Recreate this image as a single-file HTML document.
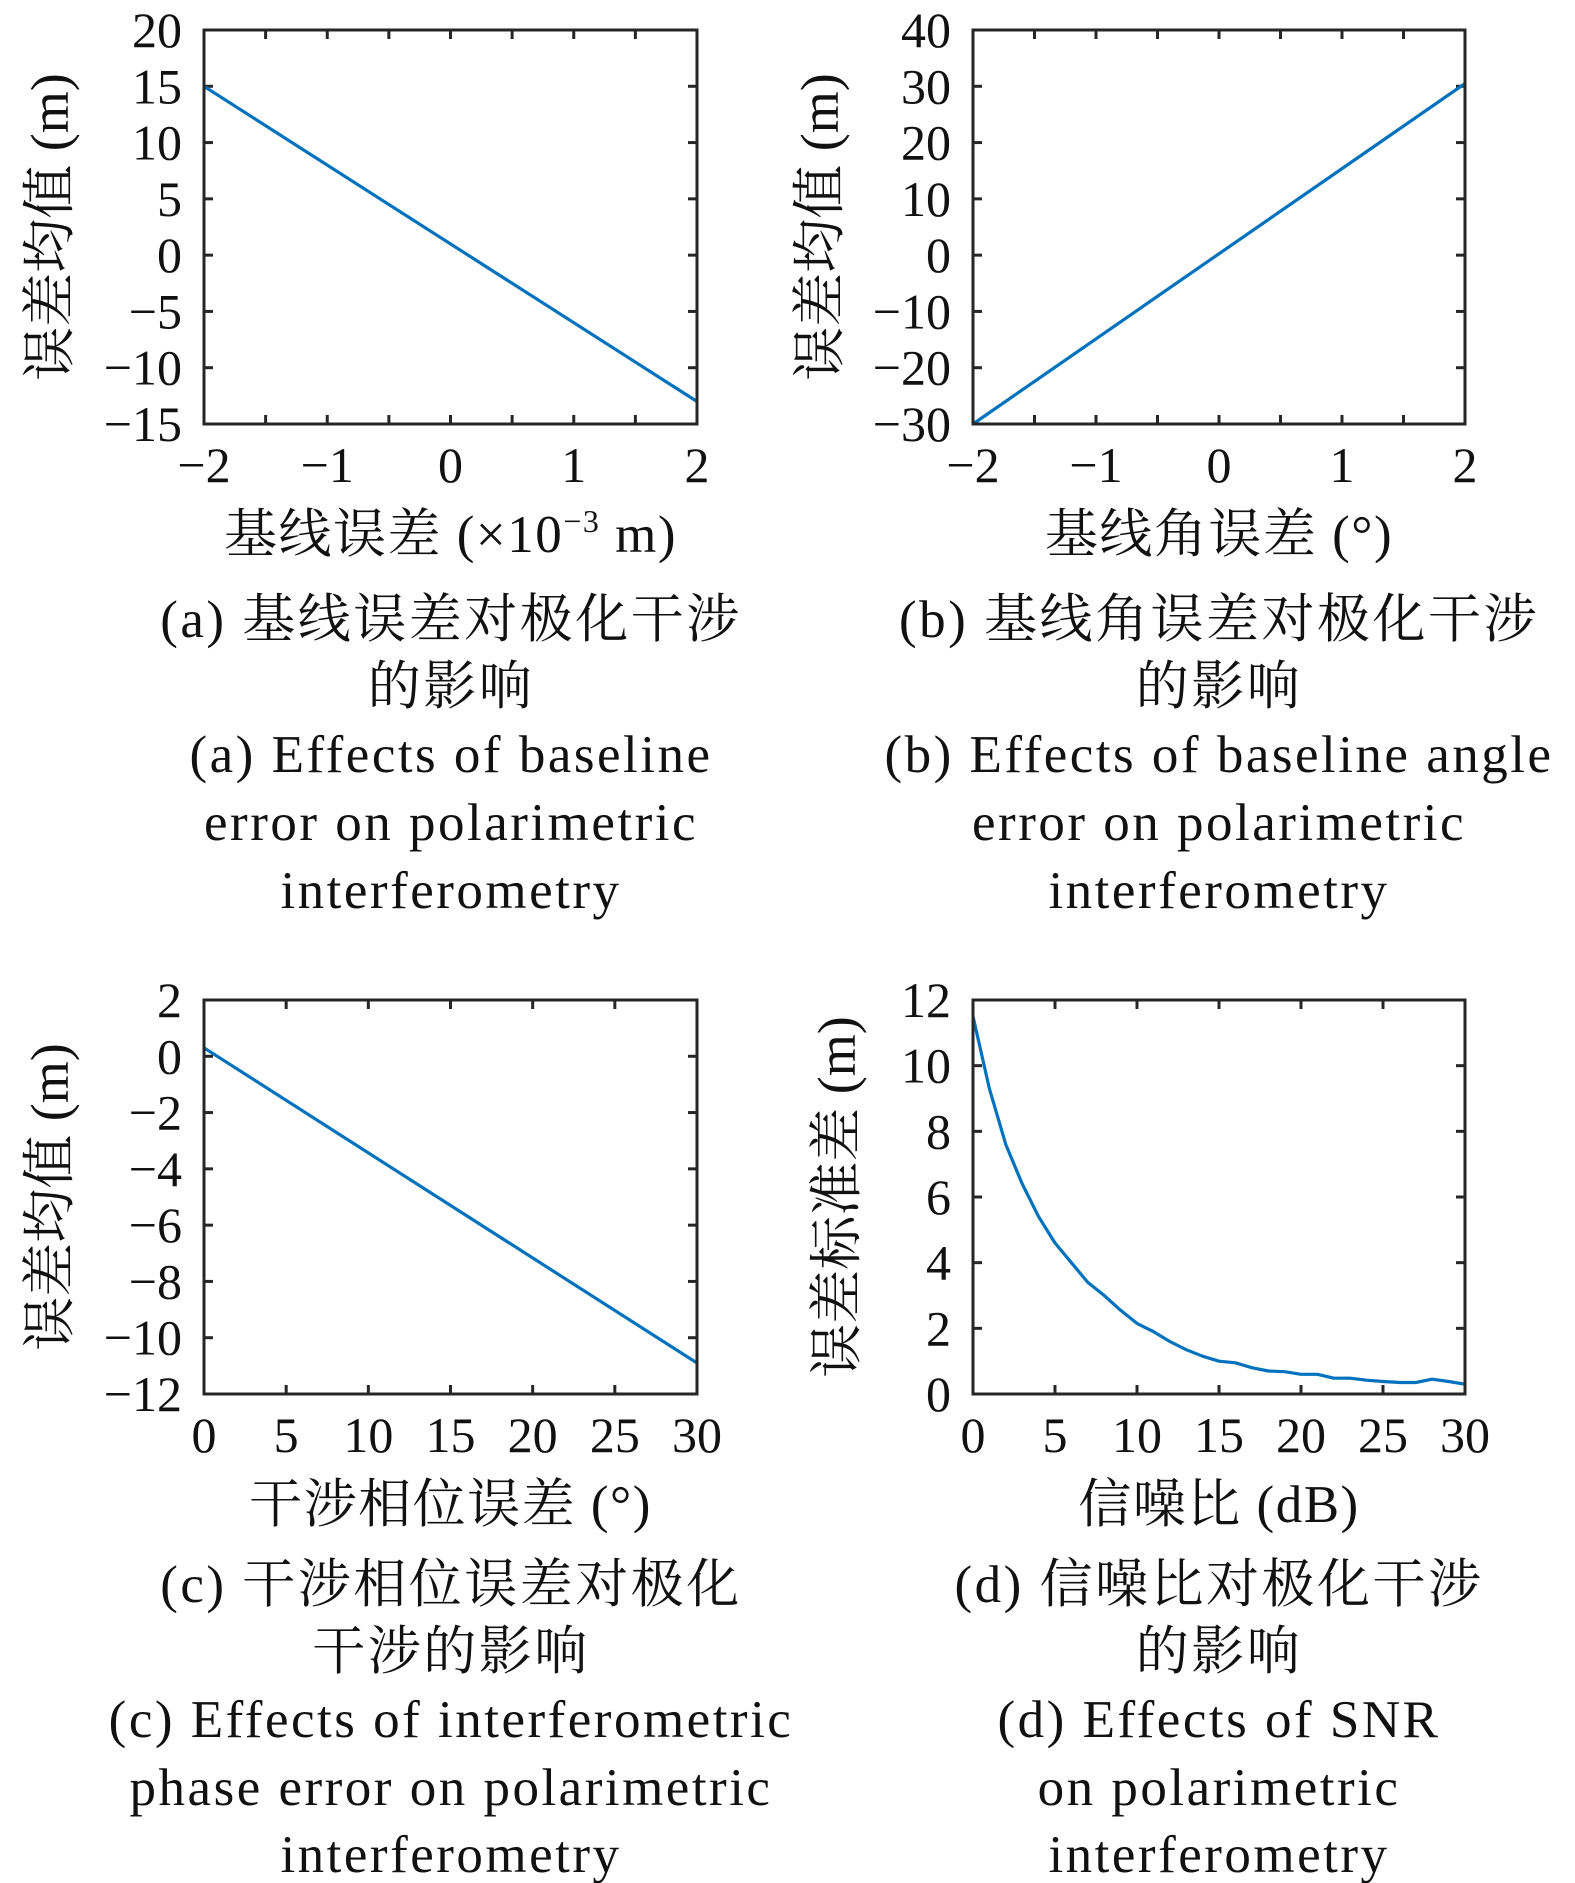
<!DOCTYPE html>
<html><head><meta charset="utf-8">
<style>
html,body{margin:0;padding:0;background:#fff;}
svg{display:block;}
text{font-family:"Liberation Serif","Noto Serif CJK SC",serif;fill:#111;}
</style></head>
<body>
<svg id="fig" width="1575" height="1883" viewBox="0 0 1575 1883" xmlns="http://www.w3.org/2000/svg"></svg>
<script>
const aX = [-2, 2];
const aY = [15, -13];
const bX = [-2, 2];
const bY = [-30, 30.5];
const cX = [0, 30];
const cY = [0.3, -10.9];
const dX = [0,1,2,3,4,5,6,7,8,9,10,11,12,13,14,15,16,17,18,19,20,21,22,23,24,25,26,27,28,29,30];
const dY = [11.5,9.3,7.6,6.4,5.4,4.6,4.0,3.4,3.0,2.55,2.15,1.9,1.6,1.35,1.15,1.0,0.95,0.8,0.7,0.68,0.6,0.6,0.48,0.48,0.42,0.38,0.35,0.35,0.45,0.38,0.3];
const aXTicks = [-2,-1,0,1,2];
const aYTicks = [20,15,10,5,0,-5,-10,-15];
const bYTicks = [40,30,20,10,0,-10,-20,-30];
const cXTicks = [0,5,10,15,20,25,30];
const cYTicks = [2,0,-2,-4,-6,-8,-10,-12];
const dYTicks = [12,10,8,6,4,2,0];

const NS = "http://www.w3.org/2000/svg";
const svg = document.getElementById('fig');
function mk(tag, attrs, parent){const e=document.createElementNS(NS,tag);for(const k in attrs)e.setAttribute(k,attrs[k]);(parent||svg).appendChild(e);return e;}
function lab(s){return s<0?'\u2212'+(-s):String(s);}

function panel(cfg){
  const g = mk('g',{});
  
  
  const L=cfg.box[0],R=cfg.box[1],T=cfg.box[2],B=cfg.box[3];
  const sx=v=>L+(v-cfg.xr[0])/(cfg.xr[1]-cfg.xr[0])*(R-L);
  const sy=v=>B-(v-cfg.yr[0])/(cfg.yr[1]-cfg.yr[0])*(B-T);
  for(let v=cfg.xr[0]; v<=cfg.xr[1]+1e-9; v+=cfg.xStep){
    const x=sx(v);
    const t1=mk('line',{x1:x,x2:x,y1:B,y2:B-9,stroke:'#262626','stroke-width':3},g);
    
    
    mk('line',{x1:x,x2:x,y1:T,y2:T+9,stroke:'#262626','stroke-width':3},g);
  }
  cfg.yTicks.forEach(v=>{
    const y=sy(v);
    const t1=mk('line',{x1:L,x2:L+9,y1:y,y2:y,stroke:'#262626','stroke-width':3},g);
    
    
    mk('line',{x1:R,x2:R-9,y1:y,y2:y,stroke:'#262626','stroke-width':3},g);
    const t=mk('text',{x:L-22,y:y+17,'text-anchor':'end','font-size':50},g);
    t.textContent=lab(v);
    
    
  });
  cfg.xTicks.forEach(v=>{
    const t=mk('text',{x:sx(v),y:B+58,'text-anchor':'middle','font-size':50},g);
    t.textContent=lab(v);
    
    
  });
  const pts=cfg.xs.map((x,i)=>sx(x).toFixed(1)+','+sy(cfg.ys[i]).toFixed(1)).join(' ');
  const pl=mk('polyline',{points:pts,fill:'none',stroke:'#0072BD','stroke-width':3.2,'stroke-linejoin':'round'},g);
  
  
  const box=mk('rect',{x:L,y:T,width:R-L,height:B-T,fill:'none',stroke:'#262626','stroke-width':3},g);
  
  
  const xt=mk('text',{x:(L+R)/2,y:B+128,'text-anchor':'middle','font-size':53,'letter-spacing':1.5},g);
  xt.innerHTML=cfg.xlabel;
  
  
  const yt=mk('text',{x:0,y:0,'text-anchor':'middle','font-size':54,transform:`translate(${cfg.ylx},${(T+B)/2}) rotate(-90)`},g);
  yt.textContent=cfg.ylabel;
  
  
  cfg.caption.forEach((s,i)=>{
    const c=mk('text',{x:cfg.capx,y:cfg.capy[i],'text-anchor':'middle','font-size':53,'letter-spacing':2.5},g);
    c.textContent=s;
    
    
  });
}
const capTop=[637,704,772,840,908];
const capBot=[1602,1669,1737,1805,1872];
panel({name:'panel-a',box:[204,697,30,424],xr:[-2,2],yr:[-15,20],xStep:0.5,xTicks:aXTicks,yTicks:aYTicks,xs:aX,ys:aY,
  xlabel:'基线误差 (×10<tspan dy="-20" font-size="32">−3</tspan><tspan dy="20"> m)</tspan>',ylabel:'误差均值 (m)',ylx:68,
  caption:['(a) 基线误差对极化干涉','的影响','(a) Effects of baseline','error on polarimetric','interferometry'],capx:451,capy:capTop});
panel({name:'panel-b',box:[973,1465,30,424],xr:[-2,2],yr:[-30,40],xStep:0.5,xTicks:aXTicks,yTicks:bYTicks,xs:bX,ys:bY,
  xlabel:'基线角误差 (°)',ylabel:'误差均值 (m)',ylx:838,
  caption:['(b) 基线角误差对极化干涉','的影响','(b) Effects of baseline angle','error on polarimetric','interferometry'],capx:1219,capy:capTop});
panel({name:'panel-c',box:[204,697,1000,1394],xr:[0,30],yr:[-12,2],xStep:5,xTicks:cXTicks,yTicks:cYTicks,xs:cX,ys:cY,
  xlabel:'干涉相位误差 (°)',ylabel:'误差均值 (m)',ylx:68,
  caption:['(c) 干涉相位误差对极化','干涉的影响','(c) Effects of interferometric','phase error on polarimetric','interferometry'],capx:451,capy:capBot});
panel({name:'panel-d',box:[973,1465,1000,1394],xr:[0,30],yr:[0,12],xStep:5,xTicks:cXTicks,yTicks:dYTicks,xs:dX,ys:dY,
  xlabel:'信噪比 (dB)',ylabel:'误差标准差 (m)',ylx:855,
  caption:['(d) 信噪比对极化干涉','的影响','(d) Effects of SNR','on polarimetric','interferometry'],capx:1219,capy:capBot});
</script>
</body></html>
